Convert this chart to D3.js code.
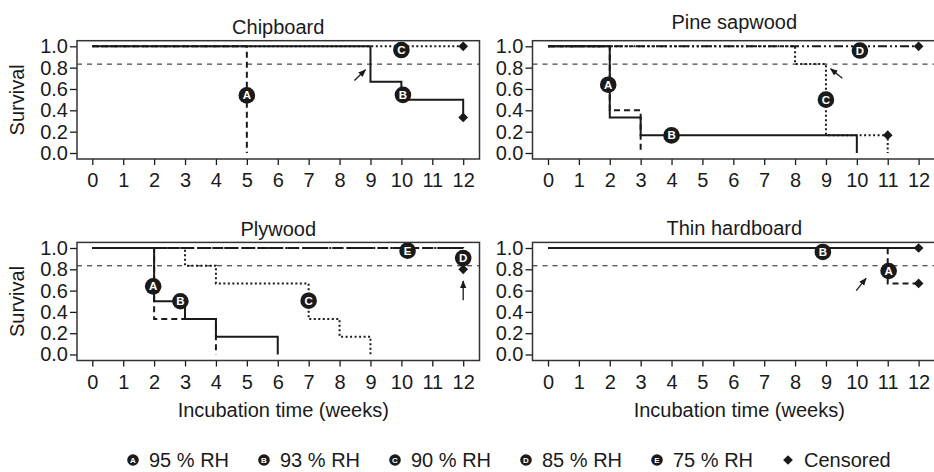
<!DOCTYPE html>
<html><head><meta charset="utf-8">
<script src="https://cdn.jsdelivr.net/npm/d3@7"></script>
<style>
body{margin:0;background:#fff;}
svg{display:block;font-family:"Liberation Sans",Arial,sans-serif;}
</style></head>
<body><svg id="c" width="934" height="472"></svg>
<script>
// ---- data ----
const weekTicks = [0,1,2,3,4,5,6,7,8,9,10,11,12];
const survivalTicks = [0,0.2,0.4,0.6,0.8,1.0];
const panelTitles = ["Chipboard","Pine sapwood","Plywood","Thin hardboard"];
const referenceLevel = 0.833;

// step curves: [time, survival] at each event
const chipboardA = [[0,1],[5,0]];
const chipboardB = [[0,1],[9,0.667],[10,0.5],[12,0.333]];
const chipboardC = [[0,1],[12,1]];
const pineA = [[0,1],[2,0.4],[3,0]];
const pineB = [[0,1],[2,0.333],[3,0.167],[10,0]];
const pineC = [[0,1],[8,0.833],[9,0.167],[11,0]];
const pineD = [[0,1],[12,1]];
const plywoodA = [[0,1],[2,0.333],[4,0]];
const plywoodB = [[0,1],[2,0.5],[3,0.333],[4,0.167],[6,0]];
const plywoodC = [[0,1],[3,0.833],[4,0.667],[7,0.333],[8,0.167],[9,0]];
const plywoodD = [[0,1],[12,0.8]];
const plywoodE = [[0,1],[12,1]];
const hardboardA = [[0,1],[11,0.667],[12,0.667]];
const hardboardB = [[0,1],[12,1]];

// censored points
const chipboardCensored = [[12,0.333],[12,1]];
const pineCensored = [[11,0.167],[12,1]];
const plywoodCensored = [[12,0.8]];
const hardboardCensored = [[12,0.667],[12,1]];

// curve label badges [letter, time, survival]
const chipboardLabels = [["A",5,0.54],["B",10.05,0.545],["C",10,0.965]];
const pineLabels = [["A",1.95,0.64],["B",4,0.165],["C",9,0.5],["D",10.1,0.96]];
const plywoodLabels = [["A",1.97,0.64],["B",2.85,0.5],["C",7,0.505],["D",12,0.905],["E",10.2,0.975]];
const hardboardLabels = [["B",8.9,0.963],["A",11.03,0.784]];

// arrows [t0,s0,t1,s1]
const chipboardArrows = [[8.48,0.68,8.84,0.78]];
const pineArrows = [[9.53,0.7,9.15,0.79]];
const plywoodArrows = [[12,0.51,12,0.69]];
const hardboardArrows = [[9.98,0.6,10.3,0.715]];

const legendLetters = ["A","B","C","D","E"];
const legendLabels = ["95 % RH","93 % RH","90 % RH","85 % RH","75 % RH"];
const censoredLabel = "Censored";

// ---- styles ----
const styleFor = {
  A:{dash:"6,4"},
  B:{dash:null},
  C:{dash:"2,2.5"},
  D:{dash:"9,3,2,3,2,3"},
  E:{dash:"11,4"}
};

const svg = d3.select("#c");
const ink = "#1a1a1a";

const cols = [{x0:92.3,x12:463.2,bl:77,br:479.5},{x0:548,x12:918.6,bl:532.5,br:936}];
const rows = [{y0:153,y1:46.3},{y0:354.5,y1:248}];
const titleBase = [34,28.5,236,235];

const panels = [
  {series:[["A",chipboardA],["C",chipboardC],["B",chipboardB]],cens:chipboardCensored,labels:chipboardLabels,arrows:chipboardArrows},
  {series:[["D",pineD],["C",pineC],["A",pineA],["B",pineB]],cens:pineCensored,labels:pineLabels,arrows:pineArrows},
  {series:[["E",plywoodE],["D",plywoodD],["C",plywoodC],["A",plywoodA],["B",plywoodB]],cens:plywoodCensored,labels:plywoodLabels,arrows:plywoodArrows},
  {series:[["A",hardboardA],["B",hardboardB]],cens:hardboardCensored,labels:hardboardLabels,arrows:hardboardArrows}
];

svg.append("defs").append("marker")
  .attr("id","ah").attr("viewBox","0 0 10 10").attr("refX",9).attr("refY",5)
  .attr("markerWidth",6).attr("markerHeight",6).attr("orient","auto")
  .append("path").attr("d","M0,1 L10,5 L0,9 Z").attr("fill",ink);

const diamond = d3.symbol().type(d3.symbolDiamond2 || d3.symbolDiamond).size(60);

panels.forEach((p,i)=>{
  const c = cols[i%2], r = rows[Math.floor(i/2)];
  const x = d3.scaleLinear().domain([0,12]).range([c.x0,c.x12]);
  const y = d3.scaleLinear().domain([0,1]).range([r.y0,r.y1]);
  const bt = y(1)-5.6, bb = y(0)+6;
  const g = svg.append("g");

  // title
  g.append("text").attr("x",(c.bl+c.br)/2).attr("y",titleBase[i])
    .attr("text-anchor","middle").attr("font-size",20).attr("fill",ink).text(panelTitles[i]);

  // axes
  const xa = g.append("g").attr("transform",`translate(0,${bb})`)
    .call(d3.axisBottom(x).tickValues(weekTicks).tickSize(6).tickPadding(8).tickFormat(d3.format("d")));
  const ya = g.append("g").attr("transform",`translate(${c.bl},0)`)
    .call(d3.axisLeft(y).tickValues(survivalTicks).tickSize(7).tickPadding(2).tickFormat(d3.format(".1f")));
  [xa,ya].forEach(a=>{
    a.select(".domain").remove();
    a.selectAll("line").attr("stroke",ink).attr("stroke-width",1.3);
    a.selectAll("text").attr("font-size",20).attr("fill",ink).attr("font-family",'"Liberation Sans",Arial,sans-serif');
  });

  // reference line
  g.append("line").attr("x1",c.bl).attr("x2",c.br).attr("y1",y(referenceLevel)).attr("y2",y(referenceLevel))
    .attr("stroke",ink).attr("stroke-width",1).attr("stroke-dasharray","5,5");

  // curves
  const line = d3.line().x(d=>x(d[0])).y(d=>y(d[1])).curve(d3.curveStepAfter);
  p.series.forEach(([k,data])=>{
    g.append("path").attr("d",line(data)).attr("fill","none").attr("stroke",ink)
      .attr("stroke-width",2).attr("stroke-dasharray",styleFor[k].dash);
  });

  // censored
  p.cens.forEach(d=>{
    g.append("path").attr("d",diamond()).attr("transform",`translate(${x(d[0])},${y(d[1])})`).attr("fill",ink);
  });

  // arrows
  p.arrows.forEach(a=>{
    g.append("line").attr("x1",x(a[0])).attr("y1",y(a[1])).attr("x2",x(a[2])).attr("y2",y(a[3]))
      .attr("stroke",ink).attr("stroke-width",1.3).attr("marker-end","url(#ah)");
  });

  // labels
  p.labels.forEach(([k,t,s])=>{
    g.append("circle").attr("cx",x(t)).attr("cy",y(s)).attr("r",8.3).attr("fill",ink);
    g.append("text").attr("x",x(t)).attr("y",y(s)+4).attr("text-anchor","middle")
      .attr("font-size",11.5).attr("font-weight","bold").attr("fill","#fff").text(k);
  });

  // box
  g.append("rect").attr("x",c.bl).attr("y",bt).attr("width",c.br-c.bl).attr("height",bb-bt)
    .attr("fill","none").attr("stroke","#333").attr("stroke-width",1.5);

  // axis labels
  if(i%2===0){
    g.append("text").attr("transform",`translate(24,${(bt+bb)/2}) rotate(-90)`)
      .attr("text-anchor","middle").attr("font-size",20).attr("fill",ink).text("Survival");
  }
  if(i>=2){
    g.append("text").attr("x",(c.bl+c.br)/2+5).attr("y",416.5).attr("text-anchor","middle")
      .attr("font-size",20).attr("fill",ink).text("Incubation time (weeks)");
  }
});

// legend
const legX = d3.scalePoint().domain(d3.range(6)).range([133,788]);
const legY = 460;
legendLetters.forEach((k,i)=>{
  const cx = legX(i);
  svg.append("circle").attr("cx",cx).attr("cy",legY).attr("r",5.8).attr("fill",ink);
  svg.append("text").attr("x",cx).attr("y",legY+3).attr("text-anchor","middle")
    .attr("font-size",8).attr("font-weight","bold").attr("fill","#fff").text(k);
  svg.append("text").attr("x",cx+16).attr("y",legY+7).attr("font-size",20).attr("fill",ink).text(legendLabels[i]);
});
svg.append("path").attr("d",diamond()).attr("transform",`translate(${legX(5)},${legY})`).attr("fill",ink);
svg.append("text").attr("x",legX(5)+16).attr("y",legY+7).attr("font-size",20).attr("fill",ink).text(censoredLabel);
</script></body></html>
